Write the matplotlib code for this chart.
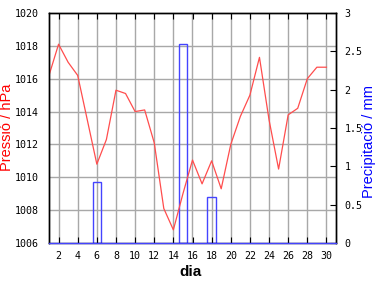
import matplotlib
matplotlib.use("Agg")
import matplotlib.pyplot as plt
import numpy as np

days = list(range(1, 31))
pressure = [1016.2, 1018.1, 1017.0, 1016.2, 1013.5, 1010.8, 1012.3, 1015.3, 1015.1, 1014.0,
            1014.1, 1012.1, 1008.1, 1006.8, 1009.0, 1011.05, 1009.6, 1011.0, 1009.3, 1012.0,
            1013.7, 1015.0, 1017.3, 1013.5, 1010.5, 1013.8, 1014.2, 1016.0, 1016.7, 1016.7]
precip_days = [6, 15, 18]
precip_vals = [0.8, 2.6, 0.6]
xticks = list(range(2, 31, 2))
p_ticks = list(range(1006, 1021, 2))
r_ticks = [0, 0.5, 1, 1.5, 2, 2.5, 3]
r_labels = ["0", "0.5", "1", "1.5", "2", "2.5", "3"]

red = "#ff4d4d"
blue = "#4444ff"
mono = "DejaVu Sans Mono"

fig = plt.figure(figsize=(3.84, 2.88), dpi=100)
ax = fig.add_axes([49/384, 45/288, (336-49)/384, (243-13)/288])
ax2 = ax.twinx()

ax.set_zorder(2)
ax.patch.set_visible(False)
ax2.set_zorder(1)

ax.plot(days, pressure, color=red, lw=0.9)
ax.set_xlim(1, 31)
ax.set_ylim(1006, 1020)
ax.set_xticks(xticks)
ax.set_xticklabels([str(t) for t in xticks], fontfamily=mono, fontsize=7.2)
ax.set_yticks(p_ticks)
ax.set_yticklabels([str(t) for t in p_ticks], fontfamily=mono, fontsize=7.2)
ax.tick_params(axis="x", direction="in", top=True, length=4, pad=6)
ax.tick_params(axis="y", direction="in", left=True, length=0, pad=7)

ax2.grid(False)
ax2.bar(precip_days, precip_vals, width=0.9, fill=False, edgecolor=blue, lw=1)
ax2.set_ylim(0, 3)
ax2.set_yticks(r_ticks)
ax2.set_yticklabels(r_labels, fontfamily=mono, fontsize=7.2)
ax2.tick_params(axis="y", direction="in", length=4, pad=6)

for x in xticks:
    ax2.axvline(x, color="#a8a8a8", lw=1, zorder=0)
for y in p_ticks[1:-1]:
    ax2.axhline((y - 1006) / 14 * 3, color="#a8a8a8", lw=1, zorder=0)

for a in (ax, ax2):
    for s in a.spines.values():
        s.set_color("black")
        s.set_linewidth(1)
ax.spines["bottom"].set_color(blue)

fig.text(7/384, 1 - 127/288, "Pressió / hPa", color="red", rotation=90,
         fontsize=10.5, ha="center", va="center", fontfamily="Liberation Sans")
fig.text(369/384, 1 - 142/288, "Precipitació / mm", color="blue", rotation=90,
         fontsize=10.5, ha="center", va="center", fontfamily="Liberation Sans")
fig.text(190/384, 1 - 272/288, "dia", color="black", fontsize=11,
         fontweight="bold", ha="center", va="center", fontfamily="Liberation Sans")

fig.savefig("out.png", dpi=100)
